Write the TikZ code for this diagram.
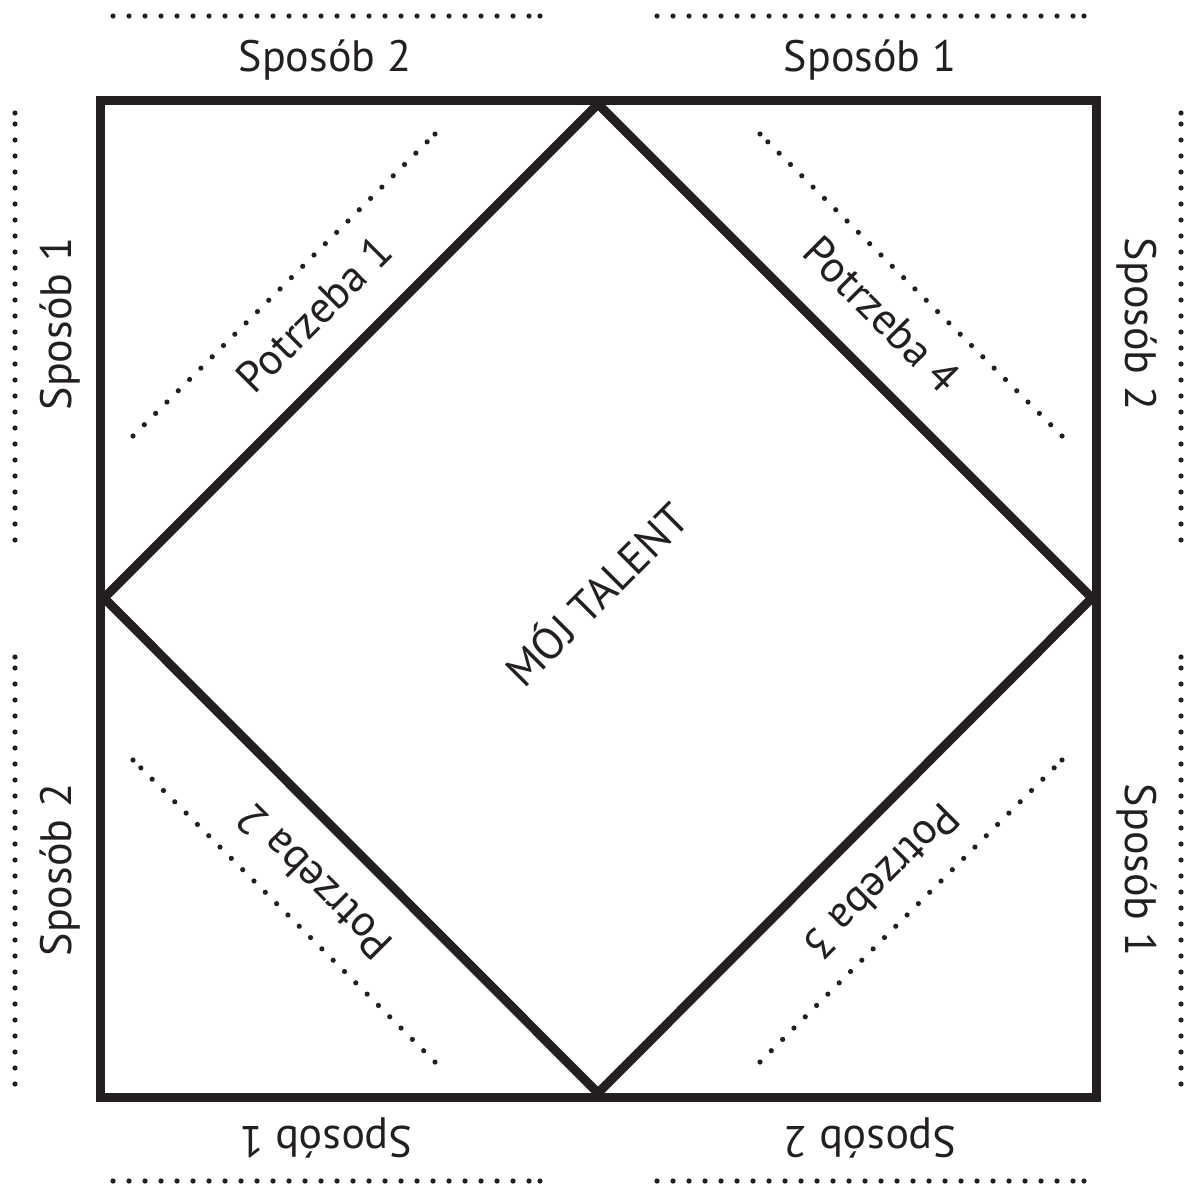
\documentclass[tikz,border=0pt]{standalone}
\usepackage{fontspec}
\setmainfont{PT Sans}
\usetikzlibrary{calc}
\definecolor{ink}{HTML}{231F20}
\tikzset{
  frame/.style={draw=ink, line width=9pt, line join=miter},
  lbl/.style={anchor=base, inner sep=0pt, text=ink, font=\fontsize{44}{44}\selectfont},
}
\newcommand{\dotrow}[2]{%
  \foreach \k in {0,...,26} {\fill[ink] ($(#1)!\k*16pt!(#2)$) circle (2.6pt);}
  \fill[ink] (#2) circle (2.6pt);%
}
\begin{document}
\begin{tikzpicture}[x=1pt,y=-1pt]
\useasboundingbox (0,0) rectangle (1196,1187);
% frame
\coordinate (TL) at (100,100);
\coordinate (BR) at (1096,1097);
\draw[frame] (TL) rectangle (BR);
% diamond
\coordinate (DT) at (598,104);
\coordinate (DR) at (1092,598);
\coordinate (DB) at (598,1093);
\coordinate (DL) at (104,598);
\draw[frame] (DT) -- (DR) -- (DB) -- (DL) -- cycle;
% outer dotted rows
\coordinate (t1a) at (113,16);   \coordinate (t1b) at (540,16);
\coordinate (t2a) at (657,16);   \coordinate (t2b) at (1084,16);
\coordinate (b1a) at (113,1181); \coordinate (b1b) at (540,1181);
\coordinate (b2a) at (657,1181); \coordinate (b2b) at (1084,1181);
\coordinate (l1a) at (15,540);   \coordinate (l1b) at (15,113);
\coordinate (l2a) at (15,1084);  \coordinate (l2b) at (15,657);
\coordinate (r1a) at (1181,540); \coordinate (r1b) at (1181,113);
\coordinate (r2a) at (1181,1084);\coordinate (r2b) at (1181,657);
\dotrow{t1a}{t1b}\dotrow{t2a}{t2b}
\dotrow{b1a}{b1b}\dotrow{b2a}{b2b}
\dotrow{l1a}{l1b}\dotrow{l2a}{l2b}
\dotrow{r1a}{r1b}\dotrow{r2a}{r2b}
% diagonal dotted rows
\coordinate (d1a) at (133,436);  \coordinate (d1b) at (435,134);
\coordinate (d2a) at (1062,436); \coordinate (d2b) at (760,134);
\coordinate (d3a) at (435,1062); \coordinate (d3b) at (133,760);
\coordinate (d4a) at (760,1062); \coordinate (d4b) at (1062,760);
\dotrow{d1a}{d1b}\dotrow{d2a}{d2b}\dotrow{d3a}{d3b}\dotrow{d4a}{d4b}
% side labels
\node[lbl] (top2) at (325,71) {Sposób 2};
\node[lbl] (top1) at (870,71) {Sposób 1};
\node[lbl, rotate=90] (left1) at (71,324) {Sposób 1};
\node[lbl, rotate=90] (left2) at (71,870) {Sposób 2};
\node[lbl, rotate=-90] (right2) at (1125,324) {Sposób 2};
\node[lbl, rotate=-90] (right1) at (1125,870) {Sposób 1};
\node[lbl, rotate=180] (bot1) at (326,1126) {Sposób 1};
\node[lbl, rotate=180] (bot2) at (870,1126) {Sposób 2};
% needs
\node[lbl, rotate=45] (p1) at (325,325) {Potrzeba 1};
\node[lbl, rotate=-45] (p4) at (871,325) {Potrzeba 4};
\node[lbl, rotate=135] (p2) at (325,871) {Potrzeba 2};
\node[lbl, rotate=-135] (p3) at (871,871) {Potrzeba 3};
% centre
\node[lbl, rotate=45] (talent) at (608,606) {MÓJ TALENT};
\end{tikzpicture}
\end{document}
